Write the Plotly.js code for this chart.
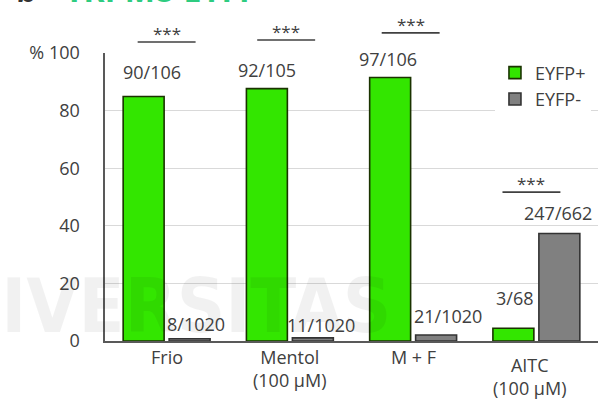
<!DOCTYPE html>
<html>
<head>
<meta charset="utf-8">
<script src="https://cdn.plot.ly/plotly-3.0.1.min.js"></script>
<style>
  html, body { margin: 0; padding: 0; background: #fff; }
  #chart { width: 607px; height: 403px; }
</style>
</head>
<body>
<div id="chart"></div>
<script>
// Conditions tested
const categories = ['Frio', 'Mentol<br>(100 µM)', 'M + F', 'AITC<br>(100 µM)'];

// Responding cells / total cells, per condition
const posResponders = [90, 92, 97, 3];
const posTotals = [106, 105, 106, 68];
const negResponders = [8, 11, 21, 247];
const negTotals = [1020, 1020, 1020, 662];

// Significance marks (EYFP+ vs EYFP-)
const sigMarks = ['***', '***', '***', '***'];

// Y tick labels
const yTickVals = [0, 20, 40, 60, 80, 100];
const yTickText = ['0', '20', '40', '60', '80', '% 100'];

const seriesNames = ['EYFP+', 'EYFP-'];

const pct = (n, d) => n.map((v, i) => 100 * v / d[i]);
const posPct = pct(posResponders, posTotals);
const negPct = pct(negResponders, negTotals);
const fracText = (n, d) => n.map((v, i) => v + '/' + d[i]);
const posText = fracText(posResponders, posTotals);
const negText = fracText(negResponders, negTotals);

const FONT = 'Open Sans, Lato, sans-serif';
const TXT = '#404040';

const traces = [
  {
    type: 'bar', name: seriesNames[0], x: categories, y: posPct,
    marker: { color: '#33e600', line: { color: '#1a3300', width: 1.6 } },
    legendgroup: 'p', hoverinfo: 'skip'
  },
  {
    type: 'bar', name: seriesNames[1], x: categories, y: negPct,
    marker: { color: '#808080', line: { color: '#333333', width: 1.6 } },
    legendgroup: 'n', hoverinfo: 'skip'
  }
];

// Bar centre offset inside each group (in category units)
const half = 0.187;

// Per-label nudges in pixels: [dx, dy]
const posNudge = [[8, 24], [0, 19], [-2, 18], [1, 30]];
const negNudge = [[6, 15], [8, 13], [12, 19], [-1, 21]];

const annotations = [];

// Faint background lettering (drawn first so it sits under the labels)
annotations.push({
  xref: 'paper', yref: 'paper', x: 0.585, y: 0.12, text: '<b>UNIVERSITAS</b>',
  showarrow: false, xanchor: 'right', yanchor: 'middle',
  font: { family: 'Liberation Sans Narrow, DejaVu Sans Condensed, sans-serif', size: 75, color: 'rgba(0,0,0,0.055)' }
});

categories.forEach((c, i) => {
  annotations.push({
    xref: 'x', yref: 'y', x: i - half, y: posPct[i], text: posText[i],
    showarrow: false, xanchor: 'center', yanchor: 'middle',
    xshift: posNudge[i][0], yshift: posNudge[i][1],
    font: { family: FONT, size: 18, color: TXT }
  });
  annotations.push({
    xref: 'x', yref: 'y', x: i + half, y: negPct[i], text: negText[i],
    showarrow: false, xanchor: 'center', yanchor: 'middle',
    xshift: negNudge[i][0], yshift: negNudge[i][1],
    font: { family: FONT, size: 18, color: TXT }
  });
});

// Category labels under the axis
const catShift = [-2, -2, -2, -10];
categories.forEach((c, i) => {
  annotations.push({
    xref: 'x', yref: 'paper', x: i, y: 0, text: c,
    showarrow: false, xanchor: 'center', yanchor: 'top',
    yshift: catShift[i], xshift: i === 3 ? -6 : 0,
    font: { family: FONT, size: 18, color: TXT }
  });
});

// Significance brackets: line height (axis units) per group
const sigLine = [103.8, 104.5, 107.0, 51.7];
const sigDx = [0, -0.03, -0.02, -0.04];
const shapes = [];
sigMarks.forEach((m, i) => {
  const xc = i + sigDx[i];
  shapes.push({
    type: 'line', xref: 'x', yref: 'paper',
    x0: xc - 0.235, x1: xc + 0.235, y0: sigLine[i] / 100, y1: sigLine[i] / 100,
    line: { color: '#404040', width: 1.6 }
  });
  annotations.push({
    xref: 'x', yref: 'paper', x: xc, y: sigLine[i] / 100, text: m,
    showarrow: false, xanchor: 'center', yanchor: 'bottom', yshift: -5,
    font: { family: FONT, size: 17, color: TXT }
  });
});

// Panel heading
annotations.push({
  xref: 'paper', yref: 'paper', x: -0.185, y: 1.138, text: '<b>b</b>',
  showarrow: false, xanchor: 'left', yanchor: 'bottom',
  font: { family: FONT, size: 32, color: '#333333' }
});
annotations.push({
  xref: 'paper', yref: 'paper', x: -0.085, y: 1.138, text: '<b>TRPM8-EYFP</b>',
  showarrow: false, xanchor: 'left', yanchor: 'bottom',
  font: { family: FONT, size: 32, color: '#2ecc80' }
});

const layout = {
  width: 607, height: 403,
  margin: { l: 105, r: 9, t: 53, b: 62 },
  paper_bgcolor: '#ffffff', plot_bgcolor: '#ffffff',
  barmode: 'group', bargap: 0.254, bargroupgap: 0.109,
  showlegend: true,
  legend: {
    x: 0.791, y: 0.995, xanchor: 'left', yanchor: 'top',
    bgcolor: '#ffffff', borderwidth: 0,
    traceorder: 'normal', tracegroupgap: 6,
    font: { family: FONT, size: 18, color: TXT }
  },
  xaxis: {
    type: 'category', range: [-0.5, 3.5],
    showticklabels: false, ticks: '',
    showline: true, linecolor: '#595959', linewidth: 1.6,
    showgrid: false, zeroline: false, fixedrange: true
  },
  yaxis: {
    range: [0, 100], tickvals: yTickVals, ticktext: yTickText,
    ticks: '', ticklabelstandoff: 20,
    tickfont: { family: FONT, size: 18, color: TXT },
    showline: true, linecolor: '#595959', linewidth: 1.6,
    showgrid: true, gridcolor: '#d9d9d9', gridwidth: 1,
    zeroline: false, fixedrange: true
  },
  shapes: shapes,
  annotations: annotations
};

Plotly.newPlot('chart', traces, layout, { staticPlot: true, displayModeBar: false });
</script>
</body>
</html>
